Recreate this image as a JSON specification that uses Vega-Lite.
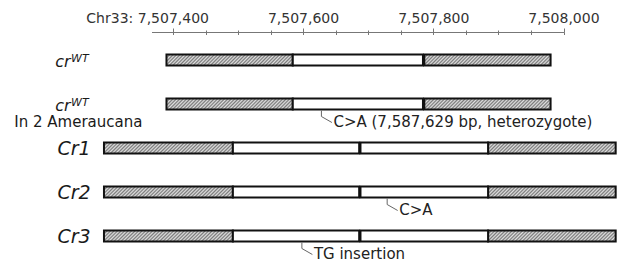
{
  "$schema": "https://vega.github.io/schema/vega-lite/v6.json",
  "width": 622,
  "height": 234,
  "autosize": "none",
  "padding": {"top": 32, "left": 0, "right": 0, "bottom": 0},
  "background": "white",
  "config": {"view": {"stroke": null}, "font": "DejaVu Sans"},
  "datasets": {
    "segments": [
      {"row": 1, "kind": "hatched", "start": 7507390, "end": 7507584},
      {"row": 1, "kind": "plain", "start": 7507584, "end": 7507784},
      {"row": 1, "kind": "hatched", "start": 7507786, "end": 7507980},
      {"row": 2, "kind": "hatched", "start": 7507390, "end": 7507584},
      {"row": 2, "kind": "plain", "start": 7507584, "end": 7507784},
      {"row": 2, "kind": "hatched", "start": 7507786, "end": 7507980},
      {"row": 3, "kind": "hatched", "start": 7507294, "end": 7507492},
      {"row": 3, "kind": "plain", "start": 7507492, "end": 7507686},
      {"row": 3, "kind": "plain", "start": 7507688, "end": 7507884},
      {"row": 3, "kind": "hatched", "start": 7507884, "end": 7508080},
      {"row": 4, "kind": "hatched", "start": 7507294, "end": 7507492},
      {"row": 4, "kind": "plain", "start": 7507492, "end": 7507686},
      {"row": 4, "kind": "plain", "start": 7507688, "end": 7507884},
      {"row": 4, "kind": "hatched", "start": 7507884, "end": 7508080},
      {"row": 5, "kind": "hatched", "start": 7507294, "end": 7507492},
      {"row": 5, "kind": "plain", "start": 7507492, "end": 7507686},
      {"row": 5, "kind": "plain", "start": 7507688, "end": 7507884},
      {"row": 5, "kind": "hatched", "start": 7507884, "end": 7508080}
    ],
    "labels": [
      {"row": 1, "name": "cr", "sup": "WT", "note": ""},
      {"row": 2, "name": "cr", "sup": "WT", "note": "In 2 Ameraucana"},
      {"row": 3, "name": "Cr1", "sup": "", "note": ""},
      {"row": 4, "name": "Cr2", "sup": "", "note": ""},
      {"row": 5, "name": "Cr3", "sup": "", "note": ""}
    ],
    "mutations": [
      {"row": 2, "pos": 7507628, "label": "C>A (7,587,629 bp, heterozygote)"},
      {"row": 4, "pos": 7507729, "label": "C>A"},
      {"row": 5, "pos": 7507598, "label": "TG insertion"}
    ]
  },
  "layer": [
    {
      "data": {"name": "segments"},
      "transform": [{"filter": "datum.kind == 'hatched'"}],
      "mark": {
        "type": "bar", "size": 11, "stroke": "#111", "strokeWidth": 2,
        "fill": {
          "gradient": "linear", "x1": 0, "y1": 0, "x2": 1.0785, "y2": 0.0934,
          "stops": [
            {"offset": 0, "color": "#7a7a7a"}, {"offset": 0.0125, "color": "#e0e0e0"},
            {"offset": 0.025, "color": "#7a7a7a"}, {"offset": 0.0375, "color": "#e0e0e0"},
            {"offset": 0.05, "color": "#7a7a7a"}, {"offset": 0.0625, "color": "#e0e0e0"},
            {"offset": 0.075, "color": "#7a7a7a"}, {"offset": 0.0875, "color": "#e0e0e0"},
            {"offset": 0.1, "color": "#7a7a7a"}, {"offset": 0.1125, "color": "#e0e0e0"},
            {"offset": 0.125, "color": "#7a7a7a"}, {"offset": 0.1375, "color": "#e0e0e0"},
            {"offset": 0.15, "color": "#7a7a7a"}, {"offset": 0.1625, "color": "#e0e0e0"},
            {"offset": 0.175, "color": "#7a7a7a"}, {"offset": 0.1875, "color": "#e0e0e0"},
            {"offset": 0.2, "color": "#7a7a7a"}, {"offset": 0.2125, "color": "#e0e0e0"},
            {"offset": 0.225, "color": "#7a7a7a"}, {"offset": 0.2375, "color": "#e0e0e0"},
            {"offset": 0.25, "color": "#7a7a7a"}, {"offset": 0.2625, "color": "#e0e0e0"},
            {"offset": 0.275, "color": "#7a7a7a"}, {"offset": 0.2875, "color": "#e0e0e0"},
            {"offset": 0.3, "color": "#7a7a7a"}, {"offset": 0.3125, "color": "#e0e0e0"},
            {"offset": 0.325, "color": "#7a7a7a"}, {"offset": 0.3375, "color": "#e0e0e0"},
            {"offset": 0.35, "color": "#7a7a7a"}, {"offset": 0.3625, "color": "#e0e0e0"},
            {"offset": 0.375, "color": "#7a7a7a"}, {"offset": 0.3875, "color": "#e0e0e0"},
            {"offset": 0.4, "color": "#7a7a7a"}, {"offset": 0.4125, "color": "#e0e0e0"},
            {"offset": 0.425, "color": "#7a7a7a"}, {"offset": 0.4375, "color": "#e0e0e0"},
            {"offset": 0.45, "color": "#7a7a7a"}, {"offset": 0.4625, "color": "#e0e0e0"},
            {"offset": 0.475, "color": "#7a7a7a"}, {"offset": 0.4875, "color": "#e0e0e0"},
            {"offset": 0.5, "color": "#7a7a7a"}, {"offset": 0.5125, "color": "#e0e0e0"},
            {"offset": 0.525, "color": "#7a7a7a"}, {"offset": 0.5375, "color": "#e0e0e0"},
            {"offset": 0.55, "color": "#7a7a7a"}, {"offset": 0.5625, "color": "#e0e0e0"},
            {"offset": 0.575, "color": "#7a7a7a"}, {"offset": 0.5875, "color": "#e0e0e0"},
            {"offset": 0.6, "color": "#7a7a7a"}, {"offset": 0.6125, "color": "#e0e0e0"},
            {"offset": 0.625, "color": "#7a7a7a"}, {"offset": 0.6375, "color": "#e0e0e0"},
            {"offset": 0.65, "color": "#7a7a7a"}, {"offset": 0.6625, "color": "#e0e0e0"},
            {"offset": 0.675, "color": "#7a7a7a"}, {"offset": 0.6875, "color": "#e0e0e0"},
            {"offset": 0.7, "color": "#7a7a7a"}, {"offset": 0.7125, "color": "#e0e0e0"},
            {"offset": 0.725, "color": "#7a7a7a"}, {"offset": 0.7375, "color": "#e0e0e0"},
            {"offset": 0.75, "color": "#7a7a7a"}, {"offset": 0.7625, "color": "#e0e0e0"},
            {"offset": 0.775, "color": "#7a7a7a"}, {"offset": 0.7875, "color": "#e0e0e0"},
            {"offset": 0.8, "color": "#7a7a7a"}, {"offset": 0.8125, "color": "#e0e0e0"},
            {"offset": 0.825, "color": "#7a7a7a"}, {"offset": 0.8375, "color": "#e0e0e0"},
            {"offset": 0.85, "color": "#7a7a7a"}, {"offset": 0.8625, "color": "#e0e0e0"},
            {"offset": 0.875, "color": "#7a7a7a"}, {"offset": 0.8875, "color": "#e0e0e0"},
            {"offset": 0.9, "color": "#7a7a7a"}, {"offset": 0.9125, "color": "#e0e0e0"},
            {"offset": 0.925, "color": "#7a7a7a"}, {"offset": 0.9375, "color": "#e0e0e0"},
            {"offset": 0.95, "color": "#7a7a7a"}, {"offset": 0.9625, "color": "#e0e0e0"},
            {"offset": 0.975, "color": "#7a7a7a"}, {"offset": 0.9875, "color": "#e0e0e0"},
            {"offset": 1, "color": "#7a7a7a"}
          ]
        }
      },
      "encoding": {
        "x": {
          "field": "start", "type": "quantitative",
          "scale": {"domain": [7507367, 7508000], "range": [151.5, 563.6], "nice": false, "zero": false},
          "axis": {
            "orient": "top", "values": [7507400, 7507600, 7507800, 7508000], "format": ",d",
            "labelExpr": "datum.value == 7507400 ? 'Chr33: ' + datum.label : datum.label",
            "labelAlign": "right", "labelOffset": 35.5, "labelBaseline": "alphabetic",
            "labelPadding": 6, "labelFontSize": 14, "labelFont": "DejaVu Sans", "labelColor": "#333",
            "labelFlush": false, "labelOverlap": false, "labelBound": false,
            "tickSize": 4, "tickColor": "#777", "tickWidth": 1,
            "domainColor": "#777", "domainWidth": 1, "grid": false, "title": null
          }
        },
        "x2": {"field": "end"},
        "y": {"field": "row", "type": "quantitative", "scale": {"domain": [1, 5], "range": [23, 209], "nice": false, "zero": false}, "axis": null}
      }
    },
    {
      "data": {"name": "segments"},
      "transform": [{"filter": "datum.kind == 'plain'"}],
      "mark": {"type": "bar", "size": 11, "stroke": "#111", "strokeWidth": 2, "fill": "white"},
      "encoding": {
        "x": {"field": "start", "type": "quantitative", "scale": {"domain": [7507367, 7508000], "range": [151.5, 563.6], "nice": false, "zero": false}, "axis": null},
        "x2": {"field": "end"},
        "y": {"field": "row", "type": "quantitative", "scale": {"domain": [1, 5], "range": [23, 209], "nice": false, "zero": false}, "axis": null}
      }
    },
    {
      "data": {"name": "mutations"},
      "mark": {"type": "rule", "color": "#666", "strokeWidth": 1, "yOffset": 6.5, "y2Offset": 12.5},
      "encoding": {
        "x": {
          "field": "pos", "type": "quantitative",
          "scale": {"domain": [7507367, 7508000], "range": [151.5, 563.6], "nice": false, "zero": false},
          "axis": {
            "orient": "top",
            "values": [7507400, 7507450, 7507500, 7507550, 7507600, 7507650, 7507700, 7507750, 7507800, 7507850, 7507900, 7507950, 7508000],
            "labels": false, "domain": false, "grid": false, "title": null,
            "tickSize": 2, "tickColor": "#777", "tickWidth": 1
          }
        },
        "y": {"field": "row", "type": "quantitative", "scale": {"domain": [1, 5], "range": [23, 209], "nice": false, "zero": false}, "axis": null},
        "y2": {"field": "row"}
      }
    },
    {
      "data": {"name": "mutations"},
      "mark": {"type": "rule", "color": "#666", "strokeWidth": 1, "yOffset": 12.5, "y2Offset": 18.5, "x2Offset": 10.5},
      "encoding": {
        "x": {
          "field": "pos", "type": "quantitative",
          "scale": {"domain": [7507367, 7508000], "range": [151.5, 563.6], "nice": false, "zero": false},
          "axis": {
            "orient": "top",
            "values": [7507400, 7507450, 7507500, 7507550, 7507600, 7507650, 7507700, 7507750, 7507800, 7507850, 7507900, 7507950, 7508000],
            "labels": false, "domain": false, "grid": false, "title": null,
            "tickSize": -2.5, "tickColor": "#777", "tickWidth": 1
          }
        },
        "x2": {"field": "pos"},
        "y": {"field": "row", "type": "quantitative", "scale": {"domain": [1, 5], "range": [23, 209], "nice": false, "zero": false}, "axis": null},
        "y2": {"field": "row"}
      }
    },
    {
      "data": {"name": "mutations"},
      "mark": {"type": "text", "align": "left", "baseline": "alphabetic", "dx": 12, "dy": 22.5, "fontSize": 15, "color": "#222", "font": "DejaVu Sans"},
      "encoding": {
        "x": {"field": "pos", "type": "quantitative", "scale": {"domain": [7507367, 7508000], "range": [151.5, 563.6], "nice": false, "zero": false}, "axis": null},
        "y": {"field": "row", "type": "quantitative", "scale": {"domain": [1, 5], "range": [23, 209], "nice": false, "zero": false}, "axis": null},
        "text": {"field": "label"}
      }
    },
    {
      "data": {"name": "labels"},
      "transform": [{"filter": "datum.sup != ''"}],
      "mark": {"type": "text", "align": "right", "baseline": "alphabetic", "dx": -3.5, "dy": 6.7, "fontSize": 16, "fontStyle": "italic", "color": "#1a1a1a", "font": "DejaVu Sans"},
      "encoding": {
        "x": {"datum": 7507248, "type": "quantitative", "scale": {"domain": [7507367, 7508000], "range": [151.5, 563.6], "nice": false, "zero": false}, "axis": null},
        "y": {"field": "row", "type": "quantitative", "scale": {"domain": [1, 5], "range": [23, 209], "nice": false, "zero": false}, "axis": null},
        "text": {"field": "name"}
      }
    },
    {
      "data": {"name": "labels"},
      "transform": [{"filter": "datum.sup != ''"}],
      "mark": {"type": "text", "align": "left", "baseline": "alphabetic", "dx": -3, "dy": 2.3, "fontSize": 11, "fontStyle": "italic", "color": "#1a1a1a", "font": "DejaVu Sans"},
      "encoding": {
        "x": {"datum": 7507248, "type": "quantitative", "scale": {"domain": [7507367, 7508000], "range": [151.5, 563.6], "nice": false, "zero": false}, "axis": null},
        "y": {"field": "row", "type": "quantitative", "scale": {"domain": [1, 5], "range": [23, 209], "nice": false, "zero": false}, "axis": null},
        "text": {"field": "sup"}
      }
    },
    {
      "data": {"name": "labels"},
      "transform": [{"filter": "datum.sup == ''"}],
      "mark": {"type": "text", "align": "center", "baseline": "alphabetic", "dy": 6.5, "fontSize": 19, "fontStyle": "italic", "color": "#1a1a1a", "font": "DejaVu Sans"},
      "encoding": {
        "x": {"datum": 7507248, "type": "quantitative", "scale": {"domain": [7507367, 7508000], "range": [151.5, 563.6], "nice": false, "zero": false}, "axis": null},
        "y": {"field": "row", "type": "quantitative", "scale": {"domain": [1, 5], "range": [23, 209], "nice": false, "zero": false}, "axis": null},
        "text": {"field": "name"}
      }
    },
    {
      "data": {"name": "labels"},
      "transform": [{"filter": "datum.note != ''"}],
      "mark": {"type": "text", "align": "center", "baseline": "alphabetic", "dx": 4.3, "dy": 23, "fontSize": 15, "color": "#1a1a1a", "font": "DejaVu Sans"},
      "encoding": {
        "x": {"datum": 7507248, "type": "quantitative", "scale": {"domain": [7507367, 7508000], "range": [151.5, 563.6], "nice": false, "zero": false}, "axis": null},
        "y": {"field": "row", "type": "quantitative", "scale": {"domain": [1, 5], "range": [23, 209], "nice": false, "zero": false}, "axis": null},
        "text": {"field": "note"}
      }
    }
  ],
  "resolve": {"axis": {"x": "independent"}}
}
